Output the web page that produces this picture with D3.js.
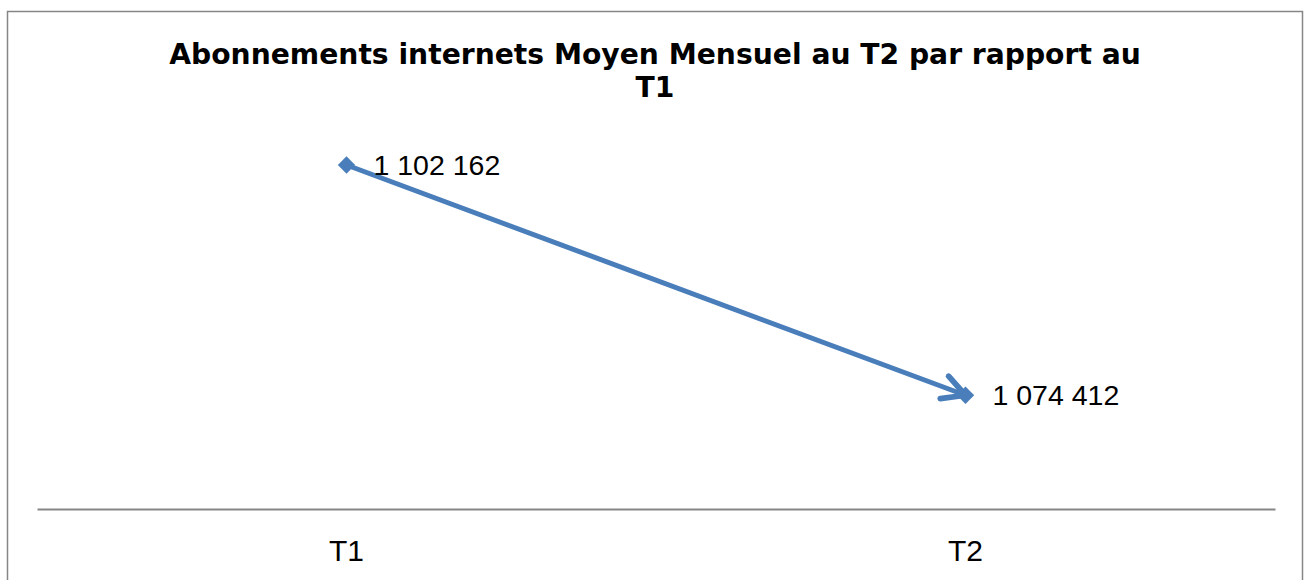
<!DOCTYPE html>
<html>
<head>
<meta charset="utf-8">
<script src="https://cdn.jsdelivr.net/npm/d3@7"></script>
<style>
  body { margin: 0; background: #fff; }
</style>
</head>
<body>
<div id="chart"></div>
<script>
// Data
var categories = ["T1", "T2"];
var values = [1102162, 1074412];
var valueLabels = ["1 102 162", "1 074 412"];
var titleLines = ["Abonnements internets Moyen Mensuel au T2 par rapport au", "T1"];

function initializeChart() {
    d3.select("#chart").select("svg").remove();

    var W = 1304, H = 580;
    var svg = d3.select("#chart").append("svg")
        .attr("width", W)
        .attr("height", H);

    // Chart frame
    svg.append("rect")
        .attr("x", 7.5).attr("y", 11.5)
        .attr("width", 1295).attr("height", 600)
        .attr("fill", "#fff")
        .attr("stroke", "#868686")
        .attr("stroke-width", 1.5);

    // Title
    svg.append("text")
        .attr("text-anchor", "middle")
        .attr("font-family", "'DejaVu Sans', Verdana, sans-serif")
        .attr("font-weight", "bold")
        .attr("font-size", 28.2)
        .selectAll("tspan")
        .data(titleLines)
        .enter().append("tspan")
        .attr("x", 655)
        .attr("y", (d, i) => 64 + i * 33)
        .text(d => d);

    // Scales
    var x = d3.scaleBand()
        .domain(categories)
        .range([37, 1275]);

    var y = d3.scaleLinear()
        .domain([1060700, 1110000])
        .range([509, 100]);

    // X axis (line + labels only)
    var xAxis = svg.append("g")
        .attr("transform", "translate(0,509)")
        .call(d3.axisBottom(x).tickSize(0).tickPadding(31));
    xAxis.select(".domain")
        .attr("stroke", "#868686")
        .attr("stroke-width", 2);
    xAxis.selectAll("text")
        .attr("font-family", "'Liberation Sans', Arial, sans-serif")
        .attr("font-size", 30)
        .attr("fill", "#000")
        .attr("dy", "0.71em");

    var cx = d => x(d) + x.bandwidth() / 2;
    var pts = categories.map((c, i) => ({ cat: c, value: values[i], label: valueLabels[i] }));

    // Arrow head at the end of the line
    svg.append("defs").append("marker")
        .attr("id", "arrow")
        .attr("viewBox", "0 0 10 10")
        .attr("refX", 8.5).attr("refY", 5)
        .attr("markerWidth", 6).attr("markerHeight", 6)
        .attr("orient", "auto")
        .append("path")
        .attr("d", "M1,1 L8.5,5 L1,9")
        .attr("fill", "none")
        .attr("stroke", "#4A7EBB")
        .attr("stroke-width", 1.9)
        .attr("stroke-linecap", "round")
        .attr("stroke-linejoin", "round");

    var line = d3.line()
        .x(d => cx(d.cat))
        .y(d => y(d.value));

    svg.append("path")
        .datum(pts)
        .attr("fill", "none")
        .attr("stroke", "#4A7EBB")
        .attr("stroke-width", 5)
        .attr("stroke-linecap", "round")
        .attr("marker-end", "url(#arrow)")
        .attr("d", line);

    // Diamond markers (rotated squares)
    svg.selectAll(".marker")
        .data(pts)
        .enter().append("path")
        .attr("class", "marker")
        .attr("d", d3.symbol().type(d3.symbolSquare).size(150))
        .attr("transform", d => `translate(${cx(d.cat)},${y(d.value)}) rotate(45)`)
        .attr("fill", "#4A7EBB");

    // Data labels
    svg.selectAll(".vlabel")
        .data(pts)
        .enter().append("text")
        .attr("class", "vlabel")
        .attr("x", d => cx(d.cat) + 27)
        .attr("y", d => y(d.value) + 10)
        .attr("font-family", "'Liberation Sans', Arial, sans-serif")
        .attr("font-size", 28.5)
        .attr("fill", "#000")
        .text(d => d.label);
}

document.addEventListener('DOMContentLoaded', initializeChart);
</script>
</body>
</html>
